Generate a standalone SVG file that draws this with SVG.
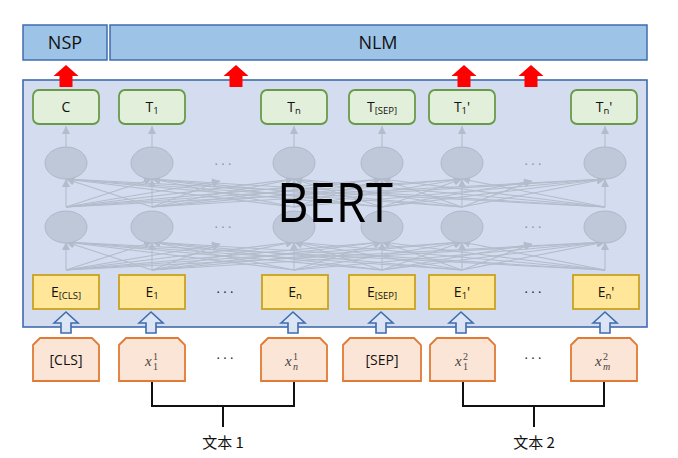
<svg xmlns="http://www.w3.org/2000/svg" xmlns:xlink="http://www.w3.org/1999/xlink" width="678" height="458" viewBox="0 0 678 458">
<style>
.head{fill:#9DC3E6;stroke:#3F6CAF;stroke-width:1.5}
.htxt{font-family:"Open Sans","Noto Sans",sans-serif;font-size:18px;fill:#111;text-anchor:middle}
.green{fill:#E2EFDA;stroke:#6A9A48;stroke-width:1.8}
.yellow{fill:#FFE699;stroke:#C9A21E;stroke-width:1.8}
.orange{fill:#FBE5D6;stroke:#E07A36;stroke-width:1.8}
.lbl{font-family:"Open Sans","Noto Sans",sans-serif;font-size:14px;fill:#111;text-anchor:middle}
.sub{font-size:9.5px}
.ell{fill:#BEC8D9;stroke:#AEB8C9;stroke-width:1}
.fan line{stroke:#B3BCCB;stroke-width:1.1}
.fan line{marker-end:url(#ah)}
.dots{font-family:"Open Sans",sans-serif;font-size:13px;text-anchor:middle}
.math{font-family:"Liberation Serif",serif;fill:#444}
.red{fill:#FF0000}
.hollow{fill:#DCE5F4;stroke:#3F6CAF;stroke-width:1.6}
.brk{fill:none;stroke:#111;stroke-width:2}
.cjk{font-family:"Noto Sans CJK SC",sans-serif;font-size:15px;fill:#111;text-anchor:middle}
</style>
<defs>
<marker id="ah" markerUnits="userSpaceOnUse" markerWidth="9" markerHeight="8" refX="8" refY="4" orient="auto">
<path d="M0,0 L8,4 L0,8 Z" fill="#B3BCCB"/>
</marker>
<path id="redArrow" d="M-12.5,11 L0,0 L12.5,11 L6.5,11 L6.5,22 L-6.5,22 L-6.5,11 Z"/>
<path id="hollowArrow" d="M-12,11 L0,0 L12,11 L5,11 L5,21 L-5,21 L-5,11 Z"/>
<g id="fanLayer" class="fan">
<line x1="66" y1="207" x2="66" y2="179"/>
<line x1="66" y1="207" x2="152" y2="179"/>
<line x1="66" y1="207" x2="220" y2="181"/>
<line x1="66" y1="207" x2="294" y2="179"/>
<line x1="66" y1="207" x2="382" y2="179"/>
<line x1="66" y1="207" x2="462" y2="179"/>
<line x1="66" y1="207" x2="605" y2="179"/>
<line x1="152" y1="207" x2="66" y2="179"/>
<line x1="152" y1="207" x2="152" y2="179"/>
<line x1="152" y1="207" x2="220" y2="181"/>
<line x1="152" y1="207" x2="294" y2="179"/>
<line x1="152" y1="207" x2="382" y2="179"/>
<line x1="152" y1="207" x2="462" y2="179"/>
<line x1="152" y1="207" x2="605" y2="179"/>
<line x1="294" y1="207" x2="66" y2="179"/>
<line x1="294" y1="207" x2="152" y2="179"/>
<line x1="294" y1="207" x2="294" y2="179"/>
<line x1="294" y1="207" x2="382" y2="179"/>
<line x1="294" y1="207" x2="462" y2="179"/>
<line x1="294" y1="207" x2="605" y2="179"/>
<line x1="382" y1="207" x2="66" y2="179"/>
<line x1="382" y1="207" x2="152" y2="179"/>
<line x1="382" y1="207" x2="294" y2="179"/>
<line x1="382" y1="207" x2="382" y2="179"/>
<line x1="382" y1="207" x2="462" y2="179"/>
<line x1="382" y1="207" x2="532" y2="181"/>
<line x1="382" y1="207" x2="605" y2="179"/>
<line x1="462" y1="207" x2="66" y2="179"/>
<line x1="462" y1="207" x2="152" y2="179"/>
<line x1="462" y1="207" x2="294" y2="179"/>
<line x1="462" y1="207" x2="382" y2="179"/>
<line x1="462" y1="207" x2="462" y2="179"/>
<line x1="462" y1="207" x2="532" y2="181"/>
<line x1="462" y1="207" x2="605" y2="179"/>
<line x1="605" y1="207" x2="66" y2="179"/>
<line x1="605" y1="207" x2="152" y2="179"/>
<line x1="605" y1="207" x2="294" y2="179"/>
<line x1="605" y1="207" x2="382" y2="179"/>
<line x1="605" y1="207" x2="462" y2="179"/>
<line x1="605" y1="207" x2="605" y2="179"/>
</g>
</defs>

<g id="nsp"><rect class="head" x="23" y="25" width="84" height="35"/><text class="htxt" x="65" y="49">NSP</text></g>
<g id="nlm"><rect class="head" x="110" y="25" width="537" height="35"/><text class="htxt" x="378" y="49">NLM</text></g>

<g id="bert">
<rect x="23" y="80" width="624" height="247" fill="#D3DDEF" stroke="#3F6CAF" stroke-width="1.6"/>
</g>

<g id="connectors">
<use xlink:href="#fanLayer"/>
<use xlink:href="#fanLayer" transform="translate(0,63)"/>
<g class="fan">
<line x1="66" y1="147" x2="66" y2="126"/>
<line x1="152" y1="147" x2="152" y2="126"/>
<line x1="294" y1="147" x2="294" y2="126"/>
<line x1="382" y1="147" x2="382" y2="126"/>
<line x1="462" y1="147" x2="462" y2="126"/>
<line x1="605" y1="147" x2="605" y2="126"/>
</g>
<path class="brk" d="M152,381 V406 H294 V381 M223,406 V427"/>
<path class="brk" d="M463,381 V406 H604 V381 M534,406 V427"/>
</g>

<g id="hidden-layers">
<ellipse class="ell" cx="66" cy="163" rx="21" ry="16"/>
<ellipse class="ell" cx="152" cy="163" rx="21" ry="16"/>
<ellipse class="ell" cx="294" cy="163" rx="21" ry="16"/>
<ellipse class="ell" cx="382" cy="163" rx="21" ry="16"/>
<ellipse class="ell" cx="462" cy="163" rx="21" ry="16"/>
<ellipse class="ell" cx="605" cy="163" rx="21" ry="16"/>
<ellipse class="ell" cx="66" cy="227" rx="21" ry="16"/>
<ellipse class="ell" cx="152" cy="227" rx="21" ry="16"/>
<ellipse class="ell" cx="294" cy="227" rx="21" ry="16"/>
<ellipse class="ell" cx="382" cy="227" rx="21" ry="16"/>
<ellipse class="ell" cx="462" cy="227" rx="21" ry="16"/>
<ellipse class="ell" cx="605" cy="227" rx="21" ry="16"/>
<text class="dots" x="223" y="169" fill="#8A93A3">· · ·</text>
<text class="dots" x="533" y="169" fill="#8A93A3">· · ·</text>
<text class="dots" x="223" y="232" fill="#8A93A3">· · ·</text>
<text class="dots" x="533" y="232" fill="#8A93A3">· · ·</text>
</g>

<text id="bert-label" x="335" y="222" font-family="Open Sans, Noto Sans, sans-serif" font-size="54" fill="#000" text-anchor="middle" textLength="116" lengthAdjust="spacingAndGlyphs">BERT</text>

<g id="out-C"><rect class="green" x="33" y="90" width="66" height="34" rx="6"/><text class="lbl" x="66" y="112">C</text></g>
<g id="out-T1"><rect class="green" x="119" y="90" width="66" height="34" rx="6"/><text class="lbl" x="152" y="112">T<tspan class="sub" dy="2">1</tspan></text></g>
<g id="out-Tn"><rect class="green" x="261" y="90" width="66" height="34" rx="6"/><text class="lbl" x="294" y="112">T<tspan class="sub" dy="2">n</tspan></text></g>
<g id="out-TSEP"><rect class="green" x="349" y="90" width="66" height="34" rx="6"/><text class="lbl" x="382" y="112">T<tspan class="sub" dy="2">[SEP]</tspan></text></g>
<g id="out-T1p"><rect class="green" x="429" y="90" width="66" height="34" rx="6"/><text class="lbl" x="462" y="112">T<tspan class="sub" dy="2">1</tspan><tspan dy="-2">'</tspan></text></g>
<g id="out-Tnp"><rect class="green" x="571" y="90" width="66" height="34" rx="6"/><text class="lbl" x="604" y="112">T<tspan class="sub" dy="2">n</tspan><tspan dy="-2">'</tspan></text></g>

<g id="red-arrows" class="red">
<use xlink:href="#redArrow" x="66" y="65"/>
<use xlink:href="#redArrow" x="236" y="65"/>
<use xlink:href="#redArrow" x="464" y="65"/>
<use xlink:href="#redArrow" x="531" y="65"/>
</g>

<g id="emb-CLS"><rect class="yellow" x="33" y="275" width="66" height="34"/><text class="lbl" x="66" y="297">E<tspan class="sub" dy="2">[CLS]</tspan></text></g>
<g id="emb-E1"><rect class="yellow" x="119" y="275" width="66" height="34"/><text class="lbl" x="152" y="297">E<tspan class="sub" dy="2">1</tspan></text></g>
<g id="emb-En"><rect class="yellow" x="262" y="275" width="66" height="34"/><text class="lbl" x="295" y="297">E<tspan class="sub" dy="2">n</tspan></text></g>
<g id="emb-SEP"><rect class="yellow" x="349" y="275" width="66" height="34"/><text class="lbl" x="382" y="297">E<tspan class="sub" dy="2">[SEP]</tspan></text></g>
<g id="emb-E1p"><rect class="yellow" x="429" y="275" width="66" height="34"/><text class="lbl" x="462" y="297">E<tspan class="sub" dy="2">1</tspan><tspan dy="-2">'</tspan></text></g>
<g id="emb-Enp"><rect class="yellow" x="573" y="275" width="66" height="34"/><text class="lbl" x="606" y="297">E<tspan class="sub" dy="2">n</tspan><tspan dy="-2">'</tspan></text></g>
<text class="dots" x="225" y="297" fill="#222">· · ·</text>
<text class="dots" x="533" y="297" fill="#222">· · ·</text>

<g id="hollow-arrows" class="hollow">
<use xlink:href="#hollowArrow" x="66" y="312"/>
<use xlink:href="#hollowArrow" x="151" y="312"/>
<use xlink:href="#hollowArrow" x="293" y="312"/>
<use xlink:href="#hollowArrow" x="381" y="312"/>
<use xlink:href="#hollowArrow" x="461" y="312"/>
<use xlink:href="#hollowArrow" x="605" y="312"/>
</g>

<g id="in-CLS"><path class="orange" d="M33,345 L40,338 H92 L99,345 V381 H33 Z"/><text class="lbl" x="66" y="365" font-size="15">[CLS]</text></g>
<g id="in-x11"><path class="orange" d="M119,345 L126,338 H178 L185,345 V381 H119 Z"/>
<text class="math" x="145" y="366" font-size="15" font-style="italic">x</text><text class="math" x="153" y="360" font-size="10">1</text><text class="math" x="153" y="370" font-size="10">1</text></g>
<g id="in-xn1"><path class="orange" d="M261,345 L268,338 H320 L327,345 V381 H261 Z"/>
<text class="math" x="285" y="366" font-size="15" font-style="italic">x</text><text class="math" x="293" y="360" font-size="10">1</text><text class="math" x="293" y="370" font-size="10" font-style="italic">n</text></g>
<g id="in-SEP"><path class="orange" d="M343,345 L350,338 H414 L421,345 V381 H343 Z"/><text class="lbl" x="382" y="365" font-size="15">[SEP]</text></g>
<g id="in-x12"><path class="orange" d="M430,345 L437,338 H488 L495,345 V381 H430 Z"/>
<text class="math" x="455" y="366" font-size="15" font-style="italic">x</text><text class="math" x="463" y="360" font-size="10">2</text><text class="math" x="463" y="370" font-size="10">1</text></g>
<g id="in-xm2"><path class="orange" d="M571,345 L578,338 H630 L637,345 V381 H571 Z"/>
<text class="math" x="595" y="366" font-size="15" font-style="italic">x</text><text class="math" x="603" y="360" font-size="10">2</text><text class="math" x="603" y="370" font-size="10" font-style="italic">m</text></g>
<text class="dots" x="225" y="363" fill="#222">· · ·</text>
<text class="dots" x="533" y="363" fill="#222">· · ·</text>

<g id="text1"><text class="cjk" x="223" y="448">文本 1</text></g>
<g id="text2"><text class="cjk" x="534" y="448">文本 2</text></g>
</svg>
